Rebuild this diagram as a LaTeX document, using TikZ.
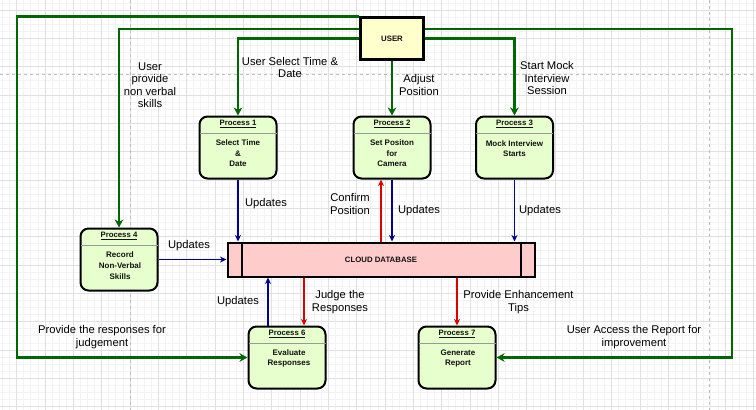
\documentclass[tikz,border=0pt]{standalone}
\usepackage{fontspec}
\setmainfont{Liberation Sans}
\usetikzlibrary{arrows.meta}
\definecolor{gline}{HTML}{006600}
\definecolor{bline}{HTML}{000099}
\definecolor{rline}{HTML}{DD0000}
\definecolor{procfill}{HTML}{E6FFCC}
\definecolor{userfill}{HTML}{FFFFCC}
\definecolor{dbfill}{HTML}{FFCCCC}
\definecolor{gridmaj}{HTML}{E0E0E0}
\definecolor{gridmin}{HTML}{F3F3F3}
\definecolor{pagebrk}{HTML}{BDBDBD}
\definecolor{txtdark}{HTML}{111111}
\definecolor{hdrline}{HTML}{999999}
\begin{document}
\begin{tikzpicture}[x=1pt,y=-1pt,
  procbox/.style={draw=black, line width=2pt, fill=procfill, rounded corners=8pt,
    minimum width=77pt, minimum height=62pt, inner sep=0pt},
  hdr/.style={font=\fontsize{7.8}{9}\selectfont\bfseries, text=txtdark, inner sep=0pt},
  body/.style={font=\fontsize{8}{10.6}\selectfont\bfseries, text=txtdark, align=center, inner sep=0pt},
  lbl/.style={font=\fontsize{11.2}{12.5}\selectfont, align=center, inner sep=0pt},
  greenflow/.style={draw=gline, line width=2.2pt, -{Stealth[length=8pt,width=8.5pt,inset=2.5pt]}},
  blueflow/.style={draw=bline, line width=1.5pt, -{Stealth[length=6.5pt,width=6pt,inset=2pt]}},
  redflow/.style={draw=rline, line width=1.2pt, -{Stealth[length=6.5pt,width=6pt,inset=2pt]}},
  hline/.style={draw=hdrline, line width=0.9pt},
  dbline/.style={draw=black, line width=2pt}
]
\useasboundingbox (0,0) rectangle (756,410);
\fill[white] (0,0) rectangle (756,410);
\begin{scope}
\clip (0,0) rectangle (756,410);
\foreach \i in {0,...,110} {\draw[gridmin, line width=0.8pt] ({16.7+7.083*(\i-3)},0) -- ++(0,410);}
\foreach \i in {0,...,62} {\draw[gridmin, line width=0.8pt] (0,{10+7.083*(\i-2)}) -- ++(756,0);}
\foreach \i in {0,...,28} {\draw[gridmaj, line width=0.8pt] ({16.7+28.33*(\i-1)},0) -- ++(0,410);}
\foreach \i in {0,...,16} {\draw[gridmaj, line width=0.8pt] (0,{10+28.33*(\i-1)}) -- ++(756,0);}
\draw[pagebrk, line width=0.8pt, dash pattern=on 3pt off 3pt] (130,0) -- (130,410);
\draw[pagebrk, line width=0.8pt, dash pattern=on 3pt off 3pt] (709,0) -- (709,410);
\draw[pagebrk, line width=0.8pt, dash pattern=on 3pt off 3pt] (0,74) -- (756,74);
\end{scope}

% USER
\node[draw=black, line width=2.2pt, fill=userfill, minimum width=63pt, minimum height=42pt,
  inner sep=0pt, font=\fontsize{7.8}{9}\selectfont\bfseries, text=txtdark] (user) at (392,38.5) {USER};

% Process boxes
\node[procbox] (p1) at (238,147.5) {};
\node[procbox] (p2) at (392,147.5) {};
\node[procbox] (p3) at (514.5,147.5) {};
\node[procbox] (p4) at (119,259.5) {};
\node[procbox] (p6) at (287,357.5) {};
\node[procbox] (p7) at (457,357.5) {};
\foreach \p in {p1,p2,p3,p4,p6,p7} {
  \draw[hline] ([yshift=-17.5pt,xshift=1pt]\p.north west) -- ([yshift=-17.5pt,xshift=-1pt]\p.north east);
}
\node[hdr] (p1h) at ([yshift=-8.5pt]p1.north) {\underline{Process 1}};
\node[hdr] (p2h) at ([yshift=-8.5pt]p2.north) {\underline{Process 2}};
\node[hdr] (p3h) at ([yshift=-8.5pt]p3.north) {\underline{Process 3}};
\node[hdr] (p4h) at ([yshift=-8.5pt]p4.north) {\underline{Process 4}};
\node[hdr] (p6h) at ([yshift=-8.5pt]p6.north) {\underline{Process 6}};
\node[hdr] (p7h) at ([yshift=-8.5pt]p7.north) {\underline{Process 7}};
\node[body] (p1t) at (238,153.5) {Select Time\\\&\\Date};
\node[body] (p2t) at (392,153.5) {Set Positon\\for\\Camera};
\node[body] (p3t) at (514.5,148.5) {Mock Interview\\Starts};
\node[body] (p4t) at (120,265.7) {Record\\Non-Verbal\\Skills};
\node[body] (p6t) at (289,358.5) {Evaluate\\Responses};
\node[body] (p7t) at (458,358.5) {Generate\\Report};

% Cloud database
\node[draw=black, line width=2pt, fill=dbfill, minimum width=307pt, minimum height=34pt,
  inner sep=0pt, font=\fontsize{7.8}{9}\selectfont\bfseries, text=txtdark] (db) at (381,259.5) {CLOUD DATABASE};
\draw[dbline] ([xshift=15pt]db.north west) -- ([xshift=15pt]db.south west);
\draw[dbline] ([xshift=-15pt]db.north east) -- ([xshift=-15pt]db.south east);

% Green flows from USER
\coordinate (c1) at (17,17.5);
\coordinate (c2) at (732,29);
\coordinate (uw) at ([yshift=9.5pt]user.west);
\coordinate (ue) at ([yshift=9.5pt]user.east);
\draw[greenflow] (user.north west) -- (user.north west -| c1) |- (p6.west);
\draw[greenflow] (uw) -| (p4.north);
\draw[greenflow] (user.west) -| (p1.north);
\draw[greenflow] (user.south) -- (p2.north);
\draw[greenflow] (user.east) -| (p3.north);
\draw[greenflow] (ue) -- (ue -| c2) |- (p7.east);

% Blue / red flows
\coordinate (r2) at ([xshift=-11pt]p2.south);
\coordinate (b6) at ([xshift=-19pt]p6.north);
\coordinate (r6) at ([xshift=17pt]p6.north);
\draw[blueflow] (p1.south) -- (p1.south |- db.north);
\draw[blueflow] (p2.south) -- (p2.south |- db.north);
\draw[redflow] (r2 |- db.north) -- (r2);
\draw[blueflow] (p3.south) -- (p3.south |- db.north);
\draw[blueflow] (p4.east) -- (db.west);
\draw[blueflow] (b6) -- (b6 |- db.south);
\draw[redflow] (r6 |- db.south) -- (r6);
\draw[redflow] (p7.north |- db.south) -- (p7.north);

% Labels
\node[lbl] (l1) at (150,85) {User\\provide\\non verbal\\skills};
\node[lbl] (l2) at (290,67.5) {User Select Time \&\\Date};
\node[lbl] (l3) at (419,85) {Adjust\\Position};
\node[lbl] (l4) at (547,78) {Start Mock\\Interview\\Session};
\node[lbl] (l5) at (634,337) {User Access the Report for\\improvement};
\node[lbl] (l6) at (102,337) {Provide the responses for\\judgement};
\node[lbl] (l7) at (266,204) {Updates};
\node[lbl] (l8) at (350,204) {Confirm\\Position};
\node[lbl] (l9) at (419,211) {Updates};
\node[lbl] (l10) at (540,211) {Updates};
\node[lbl] (l11) at (189,246) {Updates};
\node[lbl] (l12) at (238,302) {Updates};
\node[lbl] (l13) at (340,302) {Judge the\\Responses};
\node[lbl] (l14) at (518.5,302) {Provide Enhancement\\Tips};
\end{tikzpicture}
\end{document}
